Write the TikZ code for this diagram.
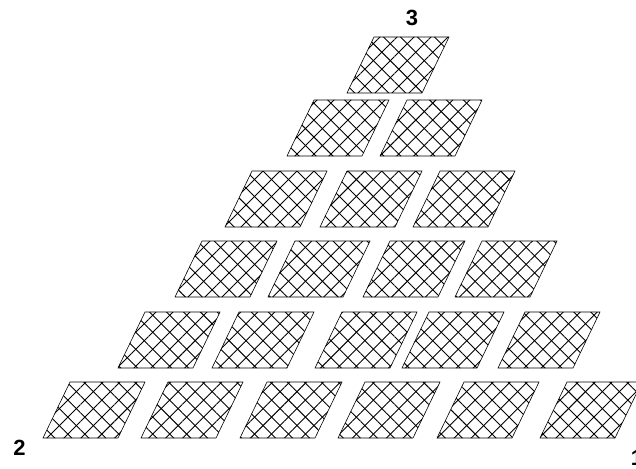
\documentclass[tikz,border=0pt]{standalone}
\usepackage{fontspec}
\setmainfont{Liberation Sans}
\usetikzlibrary{patterns.meta}
\begin{document}
\begin{tikzpicture}[x=1pt, y=-1pt]
    % Define styles
    \tikzstyle{tile} = [draw=black, line width=0.6pt, pattern={Lines[angle=45, distance=12pt, line width=0.9pt]}, postaction={pattern={Lines[angle=-45, distance=12pt, line width=0.9pt]}}]
    \tikzstyle{corner} = [inner sep=0pt, font=\bfseries\fontsize{22}{22}\selectfont]

    \useasboundingbox (0,0) rectangle (636,468);

    % Draw tiles (lower left corner of each)
    \foreach \x/\y in {43/438, 141/438, 240/438, 338/438, 437/438, 540/438,
                       118/368, 212/368, 315/368, 402/368, 498/368,
                       175/297, 268/297, 363/297, 455/297,
                       225/227, 320/227, 413/227,
                       287/156, 380/156,
                       347/93}
        \draw [tile] (\x,\y) -- ++(75,0) -- ++(27,-56) -- ++(-75,0) -- cycle;

    % Place corner labels
    \node [corner] (two) at (19.5,448) {2};
    \node [corner] (three) at (412,18) {3};
    \node [corner] (one) at (637,458) {1};
\end{tikzpicture}
\end{document}
